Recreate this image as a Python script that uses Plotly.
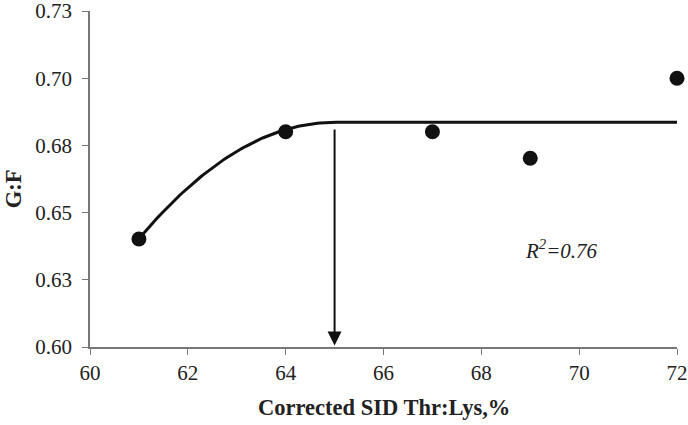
import numpy as np
import plotly.graph_objects as go

# observed G:F by corrected SID Thr:Lys ratio
thr_lys = [61, 64, 67, 69, 72]
gain_feed = [0.6402, 0.6801, 0.6801, 0.6702, 0.7000]

# quadratic-plateau fit parameters
plateau = 0.6836
breakpoint = 65.0
curvature = 0.00271
fit_x_range = [61, 72]
r_squared = "0.76"

y_ticks = [0.600, 0.625, 0.650, 0.675, 0.700, 0.725]
y_tick_labels = ["0.60", "0.63", "0.65", "0.68", "0.70", "0.73"]
x_ticks = [60, 62, 64, 66, 68, 70, 72]

fit_x = np.linspace(fit_x_range[0], fit_x_range[1], 200)
fit_y = np.where(fit_x < breakpoint, plateau - curvature * (breakpoint - fit_x) ** 2, plateau)

FONT = "Liberation Serif, Times New Roman, serif"
INK = "#222222"

fig = go.Figure()
fig.add_trace(go.Scatter(
    x=fit_x, y=fit_y, mode="lines",
    line=dict(color="#111111", width=3),
    hoverinfo="skip",
))
fig.add_trace(go.Scatter(
    x=thr_lys, y=gain_feed, mode="markers",
    marker=dict(color="#111111", size=15),
    cliponaxis=False,
))

# breakpoint arrow
fig.add_annotation(
    x=breakpoint, y=0.6006, ax=breakpoint, ay=0.6815,
    xref="x", yref="y", axref="x", ayref="y",
    showarrow=True, arrowhead=2, arrowsize=1.4, arrowwidth=2,
    arrowcolor="#111111", text="",
)
fig.add_annotation(
    x=68.86, y=0.6361, xref="x", yref="y", xanchor="left",
    text=f"<i>R<sup>2</sup>=</i><i>{r_squared}</i>", showarrow=False,
    font=dict(family=FONT, size=21, color=INK),
)

# axis titles placed by hand
fig.add_annotation(
    x=0.5, y=-0.179, xref="paper", yref="paper", yanchor="middle",
    text="<b>Corrected SID Thr:Lys,%</b>", showarrow=False,
    font=dict(family=FONT, size=22.5, color=INK),
)
fig.add_annotation(
    x=-0.131, y=0.47, xref="paper", yref="paper", xanchor="center",
    text="<b>G:F</b>", showarrow=False, textangle=-90,
    font=dict(family=FONT, size=22.5, color=INK),
)

fig.update_layout(
    width=688, height=425,
    template="simple_white",
    showlegend=False,
    margin=dict(l=90, r=11, t=11, b=78),
    font=dict(family=FONT, size=21, color=INK),
    plot_bgcolor="white", paper_bgcolor="white",
)
fig.update_xaxes(
    range=[60, 72], tickvals=x_ticks, automargin=False,
    showline=True, linecolor="#777777", linewidth=1.5,
    ticks="outside", ticklen=6, tickcolor="#777777",
    ticklabelstandoff=0, ticklabeloverflow="allow",
    tickfont=dict(family=FONT, size=21, color=INK),
)
fig.update_yaxes(
    range=[0.6, 0.725], tickvals=y_ticks, ticktext=y_tick_labels, automargin=False,
    showline=True, linecolor="#777777", linewidth=1.5,
    ticks="outside", ticklen=6, tickcolor="#777777",
    ticklabelstandoff=6, ticklabeloverflow="allow",
    tickfont=dict(family=FONT, size=21, color=INK),
)

# drop the default page margin so the figure sits at the window's corner
fig.write_html(
    "out.html",
    config={"displayModeBar": False},
    post_script="document.body.style.margin='0';",
)
